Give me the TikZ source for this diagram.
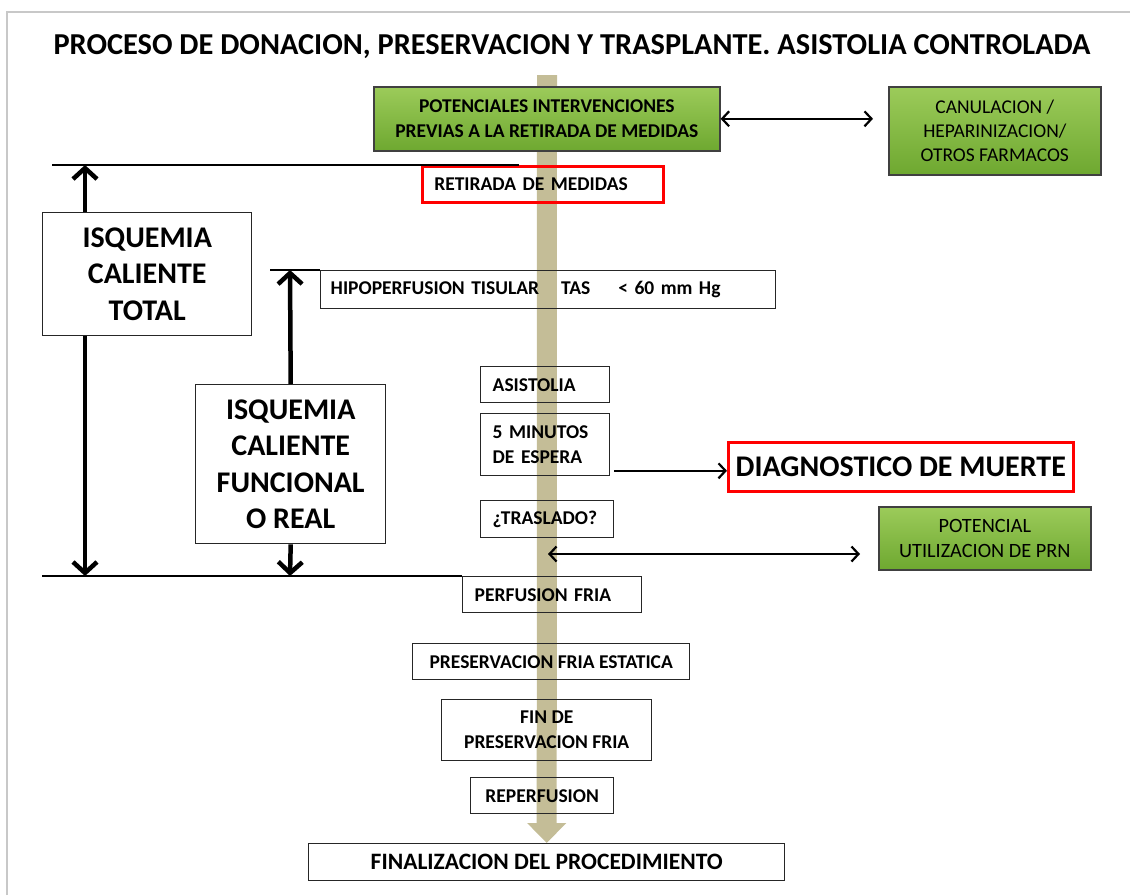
\documentclass[tikz,border=0pt]{standalone}
\usepackage{fontspec}
\setmainfont{Carlito}
\usetikzlibrary{arrows.meta,positioning,backgrounds,calc}

\definecolor{verdeClaro}{HTML}{9CCB5A}
\definecolor{verdeOscuro}{HTML}{6EA830}
\definecolor{tostado}{HTML}{C4BD97}
\definecolor{marco}{HTML}{C8C8C8}

\tikzset{
  caja/.style={draw=black!85, line width=1.4pt, anchor=north west, inner xsep=12pt, inner ysep=2pt,
    font=\fontsize{19.5}{25}\selectfont\bfseries},
  cajaRoja/.style={caja, draw=red, line width=2.6pt},
  cajaVerde/.style={caja, top color=verdeClaro, bottom color=verdeOscuro, draw=black!75, line width=1.6pt, align=center},
  grande/.style={font=\fontsize{30}{36.5}\selectfont\bfseries},
  flecha/.style={line width=2.2pt, -{Straight Barb[length=7pt,width=15pt]}},
  dobleflecha/.style={line width=2.2pt, {Straight Barb[length=7pt,width=15pt]}-{Straight Barb[length=7pt,width=15pt]}},
  gruesa/.style={line width=4.5pt, -{Straight Barb[length=11pt,width=24pt]}},
  raya/.style={line width=1.5pt},
  banda/.style={draw=tostado, line width=20pt, -{Triangle[length=20pt,width=38pt]}}
}

\begin{document}
\begin{tikzpicture}[x=1pt,y=-1pt]
\useasboundingbox (0,0) rectangle (1130,895);
\draw[marco, line width=2pt] (7,895) -- (7,12) -- (1130,12);

\node[font=\fontsize{30.4}{36}\selectfont\bfseries] (titulo) at (572,47) {PROCESO DE DONACION, PRESERVACION Y TRASPLANTE. ASISTOLIA CONTROLADA};

% cajas del eje central
\node[cajaVerde, font=\fontsize{19.5}{25}\selectfont\bfseries, minimum width=346pt, minimum height=64pt] (pot) at (373,86) {POTENCIALES INTERVENCIONES\\PREVIAS A LA RETIRADA DE MEDIDAS};
\node[cajaVerde, font=\fontsize{19.5}{24}\selectfont, minimum width=212pt, minimum height=88pt] (canu) at (888,86) {CANULACION /\\HEPARINIZACION/\\OTROS FARMACOS};
\node[cajaRoja, text width=217pt, align=left, minimum height=36pt] (retir) at (421,165) {RETIRADA DE MEDIDAS};
\node[caja, inner xsep=10pt, text width=435pt, align=left, minimum height=38pt] (hipo) at (320,270) {HIPOPERFUSION TISULAR\hspace{22pt}TAS\hspace{28pt}< 60 mm Hg};
\node[caja, text width=105pt, align=left, minimum height=36pt] (asis) at (480,366) {ASISTOLIA};
\node[caja, text width=105pt, align=left, minimum height=62pt] (min5) at (480,413) {5 MINUTOS\\DE ESPERA};
\node[caja, text width=109pt, align=left, minimum height=37pt] (trasl) at (480,500) {¿TRASLADO?};
\node[caja, text width=155pt, align=left, minimum height=36pt] (perf) at (462,576) {PERFUSION FRIA};
\node[caja, align=center, minimum width=277pt, minimum height=36pt] (pfe) at (412,643) {PRESERVACION FRIA ESTATICA};
\node[caja, align=center, minimum width=210pt, minimum height=61pt] (fin) at (441,699) {FIN DE\\PRESERVACION FRIA};
\node[caja, align=center, minimum width=143pt, minimum height=36pt] (reper) at (470,777) {REPERFUSION};
\node[caja, font=\fontsize{23.5}{28}\selectfont\bfseries, align=center, minimum width=476pt, minimum height=37pt] (final) at (308,843) {FINALIZACION DEL PROCEDIMIENTO};

% laterales
\node[caja, grande, align=center, minimum width=209pt, minimum height=123pt] (itot) at (42,212) {ISQUEMIA\\CALIENTE\\TOTAL};
\node[caja, grande, align=center, minimum width=190pt, minimum height=159pt] (ifun) at (195,384) {ISQUEMIA\\CALIENTE\\FUNCIONAL\\O REAL};
\node[cajaRoja, grande, inner xsep=2pt, minimum width=345pt, minimum height=49pt] (diag) at (727,441) {DIAGNOSTICO DE MUERTE};
\node[cajaVerde, font=\fontsize{20.3}{25}\selectfont, minimum width=212pt, minimum height=63pt] (prn) at (878,506) {POTENCIAL\\UTILIZACION DE PRN};

\begin{scope}[on background layer]
\coordinate (ini) at (547,75);
\draw[banda] (ini) -- (final.north);
\end{scope}

% rayas horizontales
\coordinate (lA) at (52,165);
\coordinate (lB) at (519,165);
\coordinate (lC) at (270,270);
\coordinate (lD) at (42,576);
\draw[raya] (lA) -- (lB);
\draw[raya] (lC) -- (hipo.north west);
\draw[raya] (lD) -- (perf.north west);

% flechas de isquemia
\coordinate (ejeA1) at (85,165);
\coordinate (ejeA2) at (85,576);
\coordinate (ejeB1) at (290,270);
\coordinate (ejeB2) at (290,576);
\draw[gruesa] (ejeA1 |- itot.north) -- (ejeA1);
\draw[gruesa] (ejeA1 |- itot.south) -- (ejeA2);
\draw[gruesa] (ifun.north) -- (ejeB1);
\draw[gruesa] (ifun.south) -- (ejeB2);

% flechas finas
\draw[dobleflecha, shorten >=15pt] (pot.east) -- (pot.east -| canu.west);
\coordinate (dd) at ($(diag.west)+(0,4)$);
\draw[flecha, shorten <=4pt] (min5.east |- dd) -- (dd);
\coordinate (pp) at (548,554);
\draw[dobleflecha, shorten >=18pt] (pp) -- (pp -| prn.west);
\end{tikzpicture}
\end{document}
